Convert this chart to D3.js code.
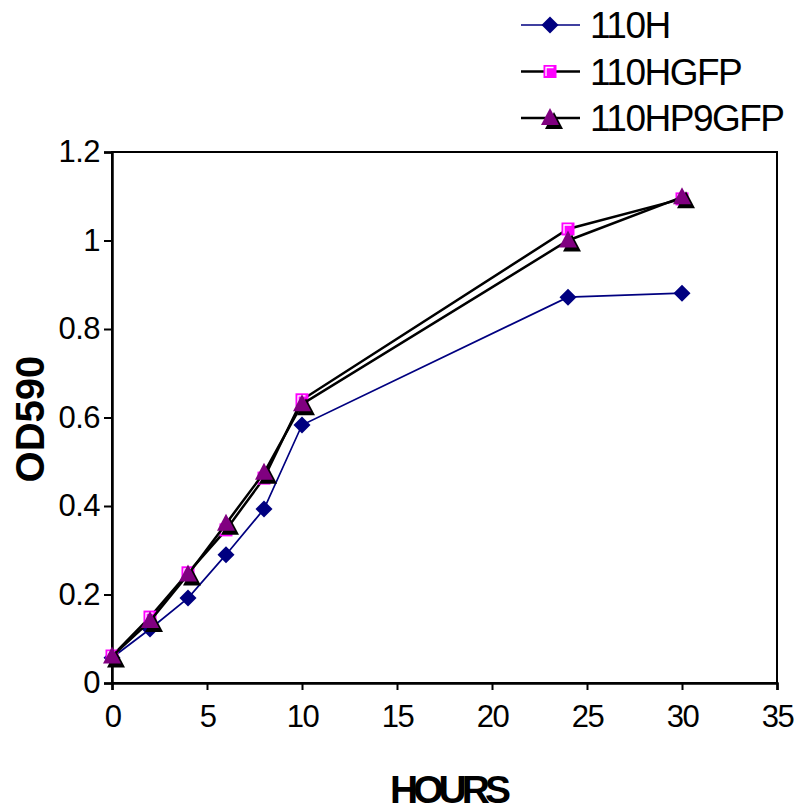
<!DOCTYPE html>
<html>
<head>
<meta charset="utf-8">
<title>OD590 growth</title>
<script src="https://cdn.jsdelivr.net/npm/d3@7"></script>
<style>
  body { margin: 0; background: #fff; }
  text { font-family: "Liberation Sans", Arial, sans-serif; }
</style>
</head>
<body>
<svg id="svg"></svg>
<script>
const hours = [0, 2, 4, 6, 8, 10, 24, 30]
const od110H = [0.057, 0.122, 0.192, 0.29, 0.393, 0.583, 0.872, 0.881]
const od110HGFP = [0.061, 0.149, 0.249, 0.346, 0.463, 0.64, 1.026, 1.094]
const od110HP9GFP = [0.06, 0.14, 0.245, 0.36, 0.475, 0.63, 1.0, 1.098]
const seriesNames = ['110H', '110HGFP', '110HP9GFP']
const xTicks = [0, 5, 10, 15, 20, 25, 30, 35]
const yTicks = [0, 0.2, 0.4, 0.6, 0.8, 1, 1.2]

const WIDTH = 798
const HEIGHT = 812

const svg = d3.select('svg')
    .attr('width', WIDTH)
    .attr('height', HEIGHT)

const x = d3.scaleLinear().domain([0, 35]).range([112, 777])
const y = d3.scaleLinear().domain([0, 1.2]).range([683, 152])

// plot frame
svg.append('rect')
    .attr('x', x(0)).attr('y', y(1.2))
    .attr('width', x(35) - x(0)).attr('height', y(0) - y(1.2))
    .attr('fill', 'none').attr('stroke', '#000').attr('stroke-width', 2)

const xAxis = svg.append('g')
    .attr('transform', `translate(0,${y(0)})`)
    .call(d3.axisBottom(x).tickValues(xTicks).tickSize(7).tickPadding(15).tickFormat(d3.format('d')))
const yAxis = svg.append('g')
    .attr('transform', `translate(${x(0)},0)`)
    .call(d3.axisLeft(y).tickValues(yTicks).tickSize(8).tickPadding(4).tickFormat(d => String(d)))

for (const ax of [xAxis, yAxis]) {
    ax.select('.domain').attr('stroke', '#000').attr('stroke-width', 2.5)
    ax.selectAll('.tick line').attr('stroke', '#000').attr('stroke-width', 2)
    ax.selectAll('.tick text')
        .attr('font-family', '"Liberation Sans", Arial, sans-serif')
        .attr('font-size', 31).attr('fill', '#000')
}
xAxis.selectAll('.tick text').attr('letter-spacing', -1.5)
yAxis.selectAll('.tick text').attr('letter-spacing', -0.5)

svg.append('text')
    .attr('transform', 'translate(44,419) rotate(-90)')
    .attr('text-anchor', 'middle')
    .attr('font-size', 40).attr('font-weight', 'bold')
    .text('OD590')

svg.append('text')
    .attr('x', 448).attr('y', 803)
    .attr('text-anchor', 'middle')
    .attr('font-size', 39).attr('font-weight', 'bold')
    .attr('letter-spacing', -5)
    .text('HOURS')

// markers
const diamond = 'M0,-8.5L8.5,0L0,8.5L-8.5,0Z'
const triangle = 'M0,-10L9,7L-9,7Z'

function drawDiamond(g) {
    g.append('path').attr('d', diamond).attr('fill', '#000080')
}
function drawSquare(g) {
    g.append('rect').attr('x', -6.5).attr('y', -6.5).attr('width', 13).attr('height', 13)
        .attr('fill', '#ff00ff')
    g.append('path').attr('d', 'M-4,4.5V-4H3.5').attr('fill', 'none')
        .attr('stroke', '#fff').attr('stroke-width', 1.3)
}
function drawTriangle(g) {
    g.append('path').attr('d', triangle).attr('fill', '#000').attr('transform', 'translate(4,4)')
    g.append('path').attr('d', triangle).attr('fill', '#800080')
}

const series = [
    {name: seriesNames[0], values: od110H, line: '#000080', width: 1.7, marker: drawDiamond},
    {name: seriesNames[1], values: od110HGFP, line: '#000', width: 2.5, marker: drawSquare},
    {name: seriesNames[2], values: od110HP9GFP, line: '#000', width: 2.5, marker: drawTriangle}
]

const line = d3.line().x(d => x(d[0])).y(d => y(d[1]))

series.forEach(s => {
    const pts = hours.map((h, i) => [h, s.values[i]])
    svg.append('path')
        .attr('d', line(pts))
        .attr('fill', 'none')
        .attr('stroke', s.line)
        .attr('stroke-width', s.width)
    svg.append('g').selectAll('g')
        .data(pts)
        .enter().append('g')
        .attr('transform', d => `translate(${x(d[0])},${y(d[1])})`)
        .each(function () { s.marker(d3.select(this)) })
})

// legend
const legend = svg.append('g')
series.forEach((s, i) => {
    const ly = 25 + i * 46.5
    legend.append('line')
        .attr('x1', 521).attr('x2', 580).attr('y1', ly).attr('y2', ly)
        .attr('stroke', s.line).attr('stroke-width', s.width)
    const m = legend.append('g').attr('transform', `translate(550,${ly})`)
    s.marker(m)
    legend.append('text')
        .attr('x', 590).attr('y', ly + 13)
        .attr('font-size', 37).attr('letter-spacing', -1.5)
        .text(s.name)
})
</script>
</body>
</html>
